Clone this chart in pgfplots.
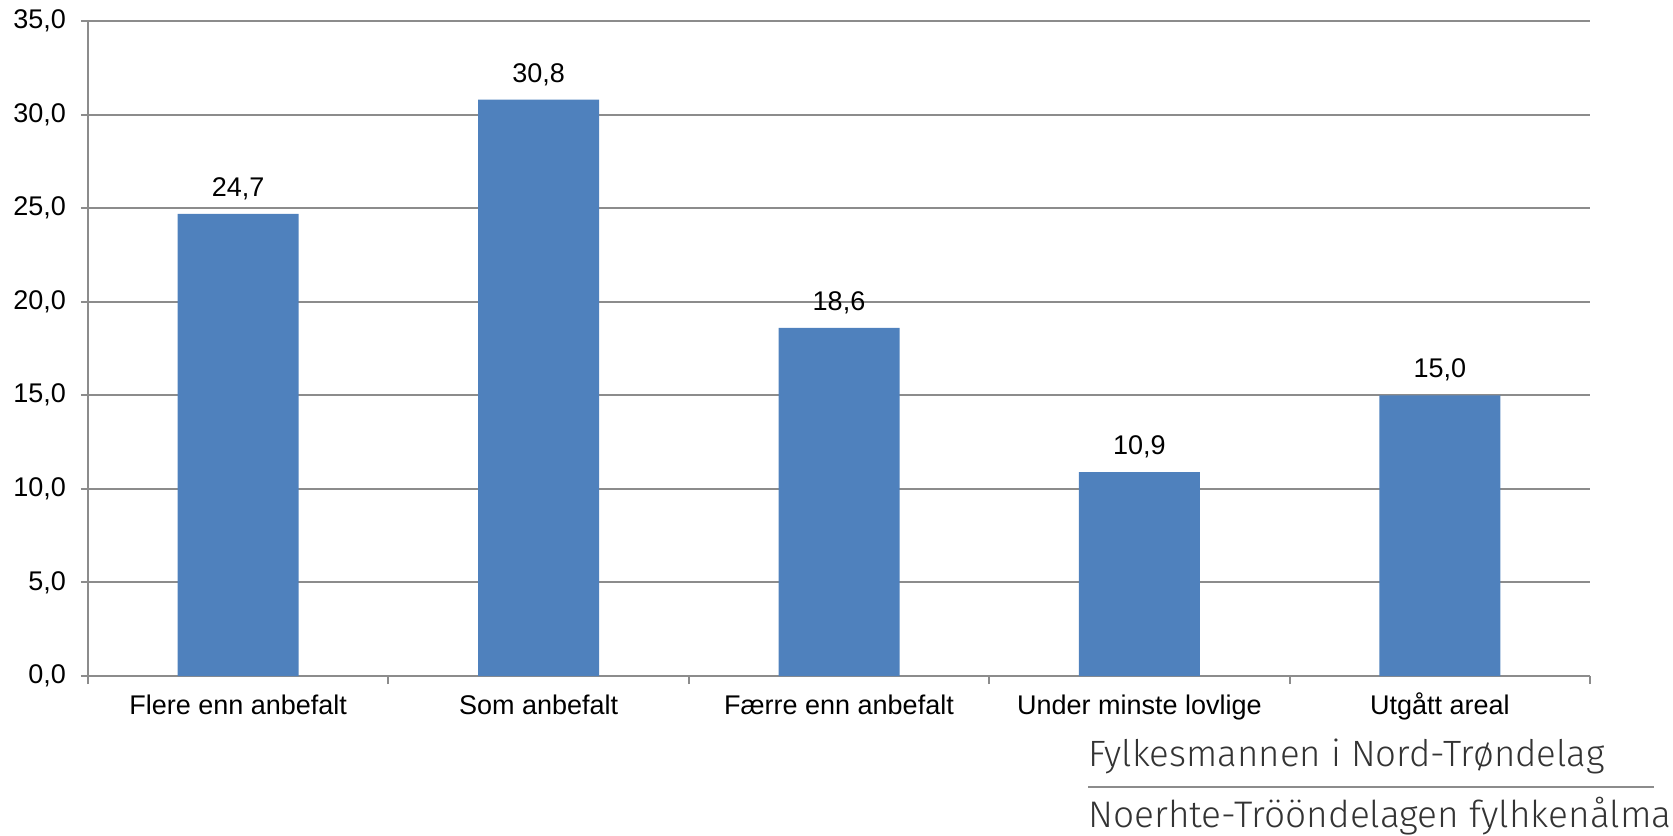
\documentclass[border=0pt]{standalone}
\usepackage{fontspec}
\setmainfont{Liberation Sans}
\newfontfamily\lightfont{Fira Sans Light}
\usepackage{pgfplots}
\pgfplotsset{compat=1.18}
\definecolor{barblue}{HTML}{4F81BD}
\definecolor{gridgray}{HTML}{8C8C8C}
\definecolor{logogray}{HTML}{333333}

\begin{document}
\begin{tikzpicture}
  \useasboundingbox (-44pt,-79.5pt) rectangle (792.5pt,338pt);
  \begin{axis}[
    scale only axis,
    width=751pt, height=327.5pt,
    ybar, bar width=60.5pt,
    xmin=-0.5, xmax=4.5,
    ymin=0, ymax=35,
    ytick={0,5,...,35},
    xtick={0,1,2,3,4},
    xticklabels={Flere enn anbefalt, Som anbefalt, Færre enn anbefalt, Under minste lovlige, Utgått areal},
    minor xtick={-0.5,0.5,1.5,2.5,3.5,4.5},
    major x tick style={draw=none},
    axis x line*=bottom, axis y line*=left,
    axis line style={gridgray, line width=1pt},
    tick style={gridgray, line width=1pt},
    tick align=outside,
    major tick length=3.5pt, minor tick length=4pt,
    ymajorgrids, major grid style={gridgray, line width=1pt},
    ticklabel style={font=\fontsize{13.5}{16}\selectfont, black},
    xticklabel style={text height=10pt, text depth=3pt, yshift=-2pt},
    yticklabel style={xshift=-4pt},
    /pgf/number format/.cd, use comma, fixed, fixed zerofill, precision=1, assume math mode=true,
    /pgfplots/.cd,
    nodes near coords,
    nodes near coords style={font=\fontsize{13.5}{16}\selectfont, black, yshift=3.5pt},
  ]
  \addplot[fill=barblue, draw=none] coordinates {
    (0,24.7) (1,30.8) (2,18.6) (3,10.9) (4,15.0)
  };
  \end{axis}
  % logo text below the chart
  \node[anchor=west, text=logogray, font=\lightfont\fontsize{18.3}{21}\selectfont, inner sep=0pt] at (500pt,-40pt) {Fylkesmannen i Nord-Trøndelag};
  \draw[gridgray, line width=0.8pt] (500pt,-55.5pt) -- (783pt,-55.5pt);
  \node[anchor=west, text=logogray, font=\lightfont\fontsize{18.5}{21}\selectfont, inner sep=0pt] at (500pt,-70pt) {Noerhte-Trööndelagen fylhkenålma};
\end{tikzpicture}
\end{document}
